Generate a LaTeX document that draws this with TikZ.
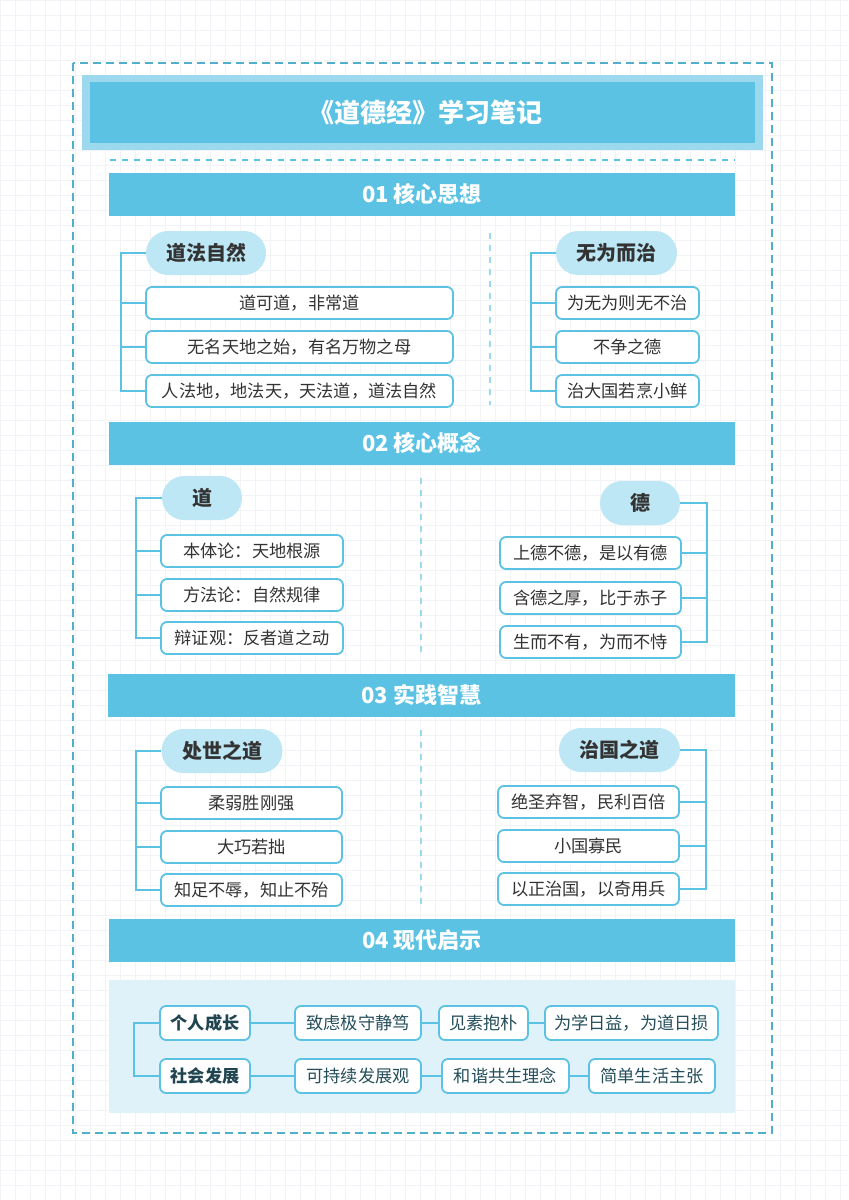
\documentclass[tikz,border=0pt]{standalone}
\usepackage{fontspec}
\setmainfont{Noto Sans CJK SC}
\usetikzlibrary{positioning}
\definecolor{main}{HTML}{5BC2E3}
\definecolor{band}{HTML}{9DD9EE}
\definecolor{pill}{HTML}{BDE7F5}
\definecolor{pale}{HTML}{DFF2F9}
\definecolor{ink}{HTML}{333333}
\definecolor{gridc}{HTML}{F1F3F6}
\tikzset{
  header/.style={fill=main, text=white, font=\bfseries\fontsize{11}{13}\selectfont, minimum width=313pt, minimum height=21.5pt, inner sep=0pt},
  topic/.style={fill=pill, text=ink, rounded corners=11pt, font=\bfseries\fontsize{10}{12}\selectfont, minimum height=22pt, inner sep=0pt},
  item/.style={draw=main, line width=0.9pt, fill=white, text=ink, rounded corners=3pt, font=\fontsize{8.6}{10}\selectfont, minimum height=16pt, inner sep=0pt},
  link/.style={draw=main, line width=0.9pt},
  divider/.style={draw=main!60, line width=0.8pt, dashed}
}
\begin{document}
\begin{tikzpicture}[x=0.5pt,y=-0.5pt]
\useasboundingbox (0,0) rectangle (848,1200);
\draw[gridc, step=7.5pt] (0,0) grid (848,1200);
% frame and title
\draw[main!90!black, line width=0.9pt, dash pattern=on 4pt off 2.5pt] (73,63) rectangle (772,1133);
\fill[band] (82,75) rectangle (763,150);
\fill[main] (90,82) rectangle (755,143);
\node[text=white, font=\bfseries\fontsize{13}{15}\selectfont] (title) at (425,113) {《道德经》学习笔记};
\draw[divider, draw=main] (110,160) -- (735,160);
% section headers
\node[header] (s1) at (422,194) {01 核心思想};
\node[header] (s2) at (422,443) {02 核心概念};
\node[header, minimum width=313.5pt] (s3) at (421.5,695) {03 实践智慧};
\node[header] (s4) at (422,940) {04 现代启示};
% 01 left
\node[topic, minimum width=60pt] (t1) at (206,253) {道法自然};
\node[item, minimum width=153.5pt] (a1) at (299.5,303) {道可道，非常道};
\node[item, minimum width=153.5pt] (a2) at (299.5,347) {无名天地之始，有名万物之母};
\node[item, minimum width=153.5pt] (a3) at (299.5,391) {人法地，地法天，天法道，道法自然};
\draw[link] (t1.west) -- (121,253) |- (a3.west);
\foreach \n in {a1,a2} \draw[link] (121,0 |- \n.west) -- (\n.west);
% 01 right
\node[topic, minimum width=60.5pt] (t2) at (616.5,253) {无为而治};
\node[item, minimum width=71.5pt] (b1) at (627.5,303) {为无为则无不治};
\node[item, minimum width=71.5pt] (b2) at (627.5,347) {不争之德};
\node[item, minimum width=71.5pt] (b3) at (627.5,391) {治大国若烹小鲜};
\draw[link] (t2.west) -- (531,253) |- (b3.west);
\foreach \n in {b1,b2} \draw[link] (531,0 |- \n.west) -- (\n.west);
\draw[divider] (490,233) -- (490,405);
% 02 left
\node[topic, minimum width=40pt] (t3) at (202,498) {道};
\node[item, minimum width=91pt] (c1) at (252,551) {本体论：天地根源};
\node[item, minimum width=91pt] (c2) at (252,595) {方法论：自然规律};
\node[item, minimum width=91pt] (c3) at (252,638) {辩证观：反者道之动};
\draw[link] (t3.west) -- (136,498) |- (c3.west);
\foreach \n in {c1,c2} \draw[link] (136,0 |- \n.west) -- (\n.west);
% 02 right
\node[topic, minimum width=40pt] (t4) at (640,503) {德};
\node[item, minimum width=90.5pt] (d1) at (590.5,553) {上德不德，是以有德};
\node[item, minimum width=90.5pt] (d2) at (590.5,598) {含德之厚，比于赤子};
\node[item, minimum width=90.5pt] (d3) at (590.5,642) {生而不有，为而不恃};
\draw[link] (t4.east) -- (707,503) |- (d3.east);
\foreach \n in {d1,d2} \draw[link] (707,0 |- \n.east) -- (\n.east);
\draw[divider] (421,478) -- (421,655);
% 03 left
\node[topic, minimum width=60.5pt] (t5) at (222,751) {处世之道};
\node[item, minimum width=90.5pt] (e1) at (251.5,803) {柔弱胜刚强};
\node[item, minimum width=90.5pt] (e2) at (251.5,847) {大巧若拙};
\node[item, minimum width=90.5pt] (e3) at (251.5,890) {知足不辱，知止不殆};
\draw[link] (t5.west) -- (136,751) |- (e3.west);
\foreach \n in {e1,e2} \draw[link] (136,0 |- \n.west) -- (\n.west);
% 03 right
\node[topic, minimum width=60.5pt] (t6) at (619.5,750) {治国之道};
\node[item, minimum width=90.5pt] (f1) at (588.5,802) {绝圣弃智，民利百倍};
\node[item, minimum width=90.5pt] (f2) at (588.5,846) {小国寡民};
\node[item, minimum width=90.5pt] (f3) at (588.5,889) {以正治国，以奇用兵};
\draw[link] (t6.east) -- (706,750) |- (f3.east);
\foreach \n in {f1,f2} \draw[link] (706,0 |- \n.east) -- (\n.east);
\draw[divider] (421,730) -- (421,905);
% 04
\fill[pale] (109,980) rectangle (735,1113);
\node[item, minimum width=45pt, minimum height=17pt, font=\bfseries\fontsize{8.6}{10}\selectfont, text=main!35!black] (g0) at (205,1023) {个人成长};
\node[item, minimum width=63pt, minimum height=17pt, text=main!40!black] (g1) at (358,1023) {致虑极守静笃};
\node[item, minimum width=44.5pt, minimum height=17pt, text=main!40!black] (g2) at (483.5,1023) {见素抱朴};
\node[item, minimum width=86.5pt, minimum height=17pt, text=main!40!black] (g3) at (631.5,1023) {为学日益，为道日损};
\node[item, minimum width=45pt, minimum height=17pt, font=\bfseries\fontsize{8.6}{10}\selectfont, text=main!35!black] (h0) at (205,1076) {社会发展};
\node[item, minimum width=63pt, minimum height=17pt, text=main!40!black] (h1) at (358,1076) {可持续发展观};
\node[item, minimum width=63.5pt, minimum height=17pt, text=main!40!black] (h2) at (505.5,1076) {和谐共生理念};
\node[item, minimum width=63pt, minimum height=17pt, text=main!40!black] (h3) at (652,1076) {简单生活主张};
\draw[link] (g0.west) -- (134,1023) |- (h0.west);
\draw[link] (g0) -- (g1) -- (g2) -- (g3);
\draw[link] (h0) -- (h1) -- (h2) -- (h3);
\end{tikzpicture}
\end{document}
